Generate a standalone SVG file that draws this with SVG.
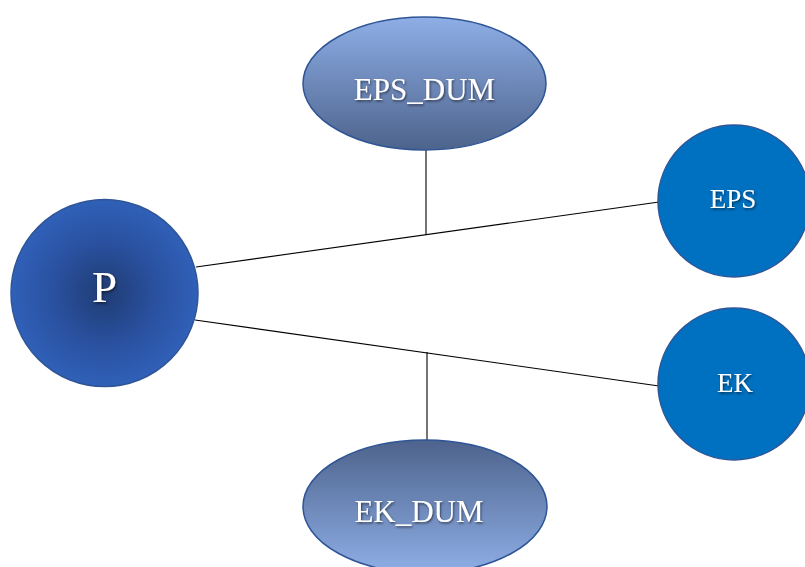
<svg xmlns="http://www.w3.org/2000/svg" width="805" height="567" viewBox="0 0 805 567">
  <style>
    .lbl { font-family: "Liberation Serif", "Times New Roman", serif; fill: #ffffff; text-anchor: middle; filter: url(#shadow); }
    .edge { stroke: #000000; stroke-width: 1.1; fill: none; }
    .solid { fill: #0070c0; stroke: #2f5597; stroke-width: 1.5; }
    .oval { stroke: #2f5597; stroke-width: 1.5; }
  </style>
  <defs>
    <radialGradient id="hubFill" cx="50%" cy="50%" r="50%">
      <stop offset="0" stop-color="#1f3c73"/>
      <stop offset="0.55" stop-color="#2a51a0"/>
      <stop offset="1" stop-color="#3060b8"/>
    </radialGradient>
    <linearGradient id="dumDown" x1="0" y1="0" x2="0" y2="1">
      <stop offset="0" stop-color="#8eaee6"/>
      <stop offset="1" stop-color="#4d638c"/>
    </linearGradient>
    <linearGradient id="dumUp" x1="0" y1="1" x2="0" y2="0">
      <stop offset="0" stop-color="#8eaee6"/>
      <stop offset="1" stop-color="#4d638c"/>
    </linearGradient>
    <filter id="shadow" x="-20%" y="-20%" width="140%" height="140%">
      <feDropShadow dx="1" dy="1.5" stdDeviation="0.8" flood-color="#000000" flood-opacity="0.55"/>
    </filter>
  </defs>

  <rect width="805" height="567" fill="#ffffff"/>

  <!-- connectors -->
  <g id="connectors">
    <line class="edge" x1="196" y1="267" x2="659" y2="202"/>
    <line class="edge" x1="426" y1="235" x2="426" y2="150"/>
    <line class="edge" x1="195" y1="320" x2="659" y2="386"/>
    <line class="edge" x1="427" y1="352" x2="427" y2="440"/>
  </g>

  <!-- hub -->
  <g id="node-P">
    <circle cx="104.5" cy="293" r="93.5" fill="url(#hubFill)" stroke="#2f5597" stroke-width="1.5"/>
    <text class="lbl" x="104.5" y="302" font-size="45">P</text>
  </g>

  <g id="node-EPS_DUM">
    <ellipse class="oval" cx="424.5" cy="83.5" rx="121.5" ry="66.5" fill="url(#dumDown)"/>
    <text class="lbl" x="424.5" y="100" font-size="31">EPS_DUM</text>
  </g>

  <g id="node-EK_DUM">
    <ellipse class="oval" cx="425" cy="506.5" rx="122" ry="66.5" fill="url(#dumUp)"/>
    <text class="lbl" x="419" y="522" font-size="31">EK_DUM</text>
  </g>

  <g id="node-EPS">
    <circle class="solid" cx="734" cy="201" r="76"/>
    <text class="lbl" x="733" y="208" font-size="27">EPS</text>
  </g>

  <g id="node-EK">
    <circle class="solid" cx="734" cy="384" r="76"/>
    <text class="lbl" x="735" y="392" font-size="27">EK</text>
  </g>
</svg>
